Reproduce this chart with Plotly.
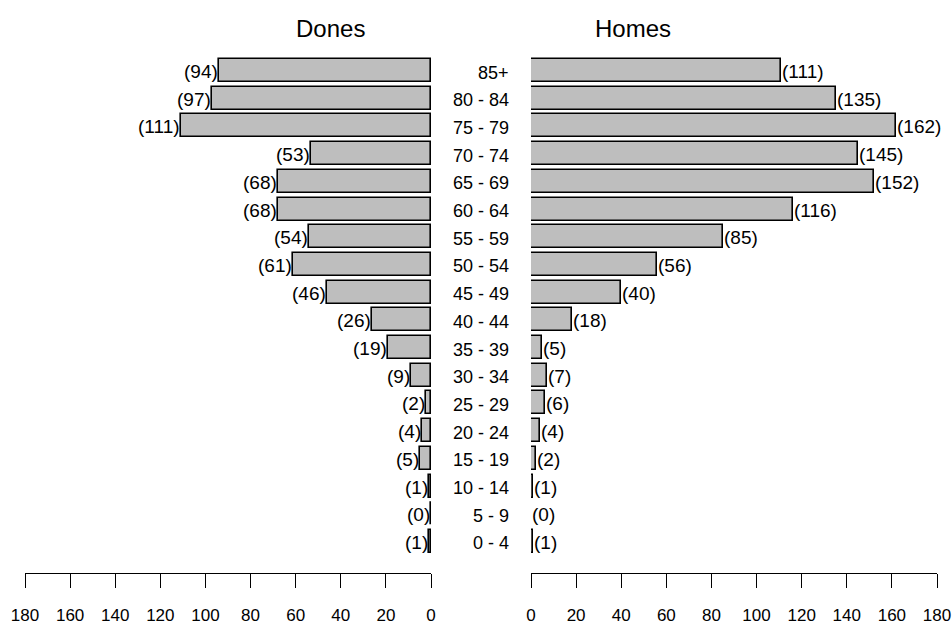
import plotly.graph_objects as go

age_groups = ["0 - 4", "5 - 9", "10 - 14", "15 - 19", "20 - 24", "25 - 29", "30 - 34",
              "35 - 39", "40 - 44", "45 - 49", "50 - 54", "55 - 59", "60 - 64",
              "65 - 69", "70 - 74", "75 - 79", "80 - 84", "85+"]
dones = [1, 0, 1, 5, 4, 2, 9, 19, 26, 46, 61, 54, 68, 68, 53, 111, 97, 94]
homes = [1, 0, 1, 2, 4, 6, 7, 5, 18, 40, 56, 85, 116, 152, 145, 162, 135, 111]
tick_vals = [0, 20, 40, 60, 80, 100, 120, 140, 160, 180]

W, H = 952, 626
FONT = "Liberation Sans, Arial, sans-serif"
idx = list(range(len(age_groups)))

fig = go.Figure()
bar_style = dict(marker=dict(color="#BEBEBE", line=dict(color="#000000", width=1.6)),
                 width=0.83, orientation="h", showlegend=False, hoverinfo="skip")
fig.add_trace(go.Bar(x=dones, y=idx, xaxis="x", yaxis="y", **bar_style))
fig.add_trace(go.Bar(x=homes, y=idx, xaxis="x2", yaxis="y", **bar_style))

annotations = []
for i, v in zip(idx, dones):
    annotations.append(dict(x=v, y=i, xref="x", yref="y", text=f"({v})", showarrow=False,
                            xanchor="right", yanchor="middle", yshift=-1, xshift=1,
                            font=dict(family=FONT, size=19, color="#000")))
for i, v in zip(idx, homes):
    annotations.append(dict(x=v, y=i, xref="x2", yref="y", text=f"({v})", showarrow=False,
                            xanchor="left", yanchor="middle", yshift=-1, xshift=-1,
                            font=dict(family=FONT, size=19, color="#000")))
for i, lab in zip(idx, age_groups):
    annotations.append(dict(x=511 / W, y=i, xref="paper", yref="y", text=lab, showarrow=False,
                            xanchor="right", yanchor="middle", yshift=-2,
                            font=dict(family=FONT, size=18, color="#000")))
annotations.append(dict(x=330 / W, y=1 - 29 / H, xref="paper", yref="paper", text="Dones",
                        showarrow=False, xanchor="center", yanchor="middle",
                        font=dict(family=FONT, size=24, color="#000")))
annotations.append(dict(x=633 / W, y=1 - 29 / H, xref="paper", yref="paper", text="Homes",
                        showarrow=False, xanchor="center", yanchor="middle",
                        font=dict(family=FONT, size=24, color="#000")))

axis_common = dict(showgrid=False, zeroline=False, showline=True, linecolor="#000",
                   linewidth=1.3, ticks="outside", ticklen=14, tickwidth=1.3, tickcolor="#000",
                   tickvals=tick_vals, anchor="y", fixedrange=True, automargin=False,
                   ticklabelstandoff=13,
                   tickfont=dict(family=FONT, size=17, color="#000"))

row_px = 27.7
y_bottom_px = 572.7
y0 = -(y_bottom_px - 541.5) / row_px
y1 = 17 + 70.5 / row_px

fig.update_layout(
    width=W, height=H,
    margin=dict(l=0, r=0, t=0, b=0, autoexpand=False),
    paper_bgcolor="white", plot_bgcolor="white",
    xaxis=dict(domain=[25 / W, 431 / W], range=[180, 0], **axis_common),
    xaxis2=dict(domain=[531 / W, 937 / W], range=[0, 180], **axis_common),
    yaxis=dict(domain=[(H - y_bottom_px) / H, 1], range=[y0, y1], visible=False,
               fixedrange=True, automargin=False),
    annotations=annotations,
    bargap=0,
)

fig.write_html("out.html")
